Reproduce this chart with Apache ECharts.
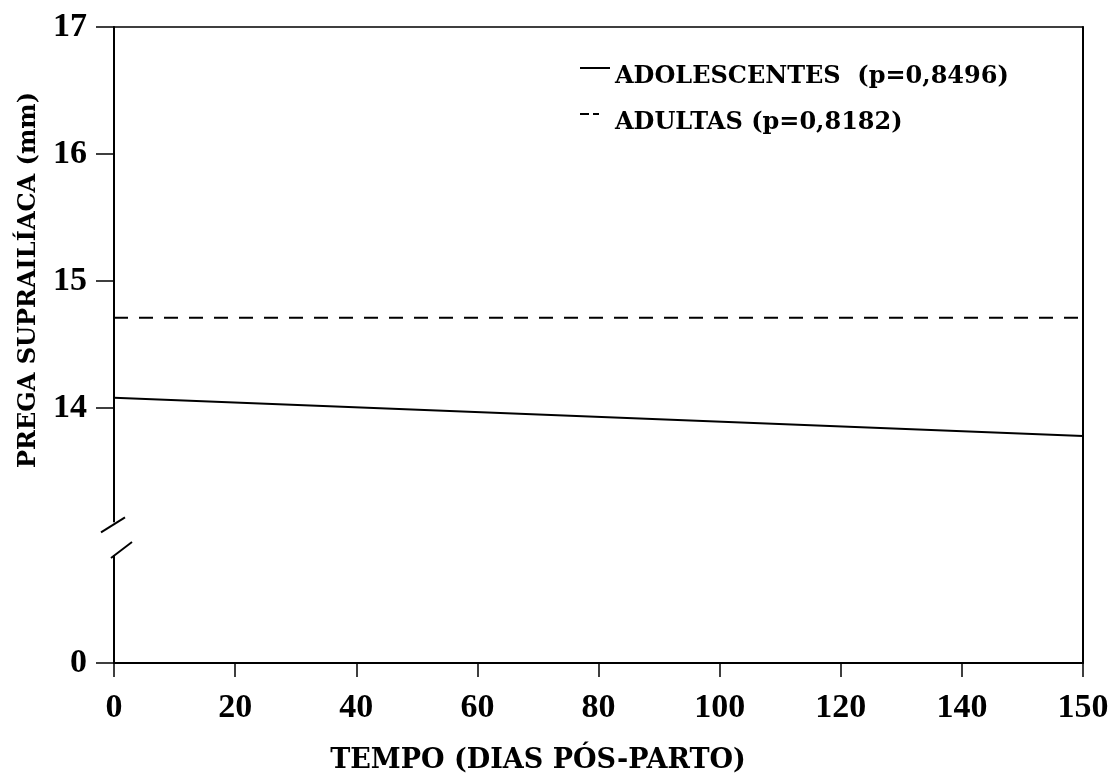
<!DOCTYPE html>
<html>
<head>
<meta charset="utf-8">
<script src="https://cdn.jsdelivr.net/npm/echarts@6/dist/echarts.min.js"></script>
<style>html,body{margin:0;padding:0;background:#fff}#c{width:1114px;height:782px}</style>
</head>
<body>
<div id="c"></div>
<script>
// ---- data ----
const xCategories = ['0', '20', '40', '60', '80', '100', '120', '140', '150'];
const yTickValues = [0, 14, 15, 16, 17];
const adolescentes = [['0', 14.08], ['150', 13.78]];
const adultas = [['0', 14.71], ['150', 14.71]];
const seriesNames = ['ADOLESCENTES  (p=0,8496)', 'ADULTAS (p=0,8182)'];
const xAxisTitle = 'TEMPO (DIAS PÓS-PARTO)';
const yAxisTitle = 'PREGA SUPRAILÍACA (mm)';
const yBreak = { start: 0.85, end: 13.1 };

const chart = echarts.init(document.getElementById('c'), null, { renderer: 'canvas' });
const tickFont = { fontFamily: 'Liberation Serif', fontWeight: 'bold', fontSize: 34, color: '#000' };

const option = {
  backgroundColor: '#fff',
  animation: false,
  grid: { left: 114, right: 31, top: 27, bottom: 119, containLabel: false },
  legend: {
    orient: 'vertical', left: 575, top: 60, itemWidth: 30, itemHeight: 20, itemGap: 22,
    data: [
      { name: seriesNames[0], icon: 'path://M0,0H30V2H0Z M29.99,19.99H30V20H29.99Z' },
      { name: seriesNames[1], icon: 'path://M0,0H9V2H0Z M13,0H19V2H13Z M29.99,19.99H30V20H29.99Z' }
    ],
    itemStyle: { color: '#000', borderWidth: 0 },
    textStyle: { fontFamily: 'DejaVu Serif', fontWeight: 'bold', fontSize: 24, color: '#000' }
  },
  xAxis: [{
    type: 'category', data: xCategories, boundaryGap: false, position: 'bottom',
    axisLine: { onZero: false, lineStyle: { color: '#000', width: 2 } },
    axisTick: { show: true, inside: false, length: 14, alignWithLabel: true, lineStyle: { color: '#000', width: 1.5 } },
    axisLabel: Object.assign({ margin: 28 }, tickFont),
    splitLine: { show: false }
  }, {
    type: 'category', data: xCategories, boundaryGap: false, position: 'top',
    axisLine: { onZero: false, lineStyle: { color: '#000', width: 1.5 } },
    axisTick: { show: false }, axisLabel: { show: false }, splitLine: { show: false }
  }],
  yAxis: [{
    type: 'value', min: 0, max: 17, interval: 1, position: 'left',
    breaks: [{ start: yBreak.start, end: yBreak.end, gap: '5.15%' }],
    breakArea: {
      show: true, expandOnClick: false, zigzagAmplitude: 0,
      itemStyle: { color: 'rgba(0,0,0,0)', borderColor: 'rgba(0,0,0,0)', borderWidth: 0, opacity: 0 }
    },
    axisLine: { show: true, onZero: false, lineStyle: { color: '#000', width: 2 } },
    axisTick: { show: true, inside: false, length: 18, customValues: yTickValues, lineStyle: { color: '#000', width: 1.5 } },
    axisLabel: Object.assign({ margin: 27, customValues: yTickValues }, tickFont),
    splitLine: { show: false }
  }, {
    type: 'value', min: 0, max: 17, position: 'right',
    axisLine: { show: true, onZero: false, lineStyle: { color: '#000', width: 2 } },
    axisTick: { show: false }, axisLabel: { show: false }, splitLine: { show: false }
  }],
  series: [{
    name: seriesNames[0], type: 'line', data: adolescentes, symbol: 'none',
    lineStyle: { color: '#000', width: 2, type: 'solid' }, itemStyle: { color: '#000' }
  }, {
    name: seriesNames[1], type: 'line', data: adultas, symbol: 'none',
    lineStyle: { color: '#000', width: 2, type: [14, 11] }, itemStyle: { color: '#000' }
  }],
  graphic: [{
    type: 'text', id: 'xname', x: 538, y: 761,
    style: { text: xAxisTitle, textAlign: 'center', textVerticalAlign: 'middle', font: 'bold 27px "DejaVu Serif"', fill: '#000' }
  }, {
    type: 'text', id: 'yname', x: 29, y: 280, rotation: Math.PI / 2,
    style: { text: yAxisTitle, textAlign: 'center', textVerticalAlign: 'middle', font: 'bold 24px "DejaVu Serif"', fill: '#000' }
  }]
};
chart.setOption(option);

// break marks on the y axis, placed from the axis scale
const ax = chart.convertToPixel({ xAxisIndex: 0 }, '0');
const yTop = chart.convertToPixel({ yAxisIndex: 0 }, yBreak.end);
const yBot = chart.convertToPixel({ yAxisIndex: 0 }, yBreak.start);
chart.setOption({
  graphic: [{
    type: 'rect', id: 'gapcover', z: 100,
    shape: { x: ax - 5, y: yTop, width: 10, height: yBot - yTop },
    style: { fill: '#fff' }
  }, {
    type: 'line', id: 'slash1', z: 101,
    shape: { x1: ax - 13, y1: yTop + 10, x2: ax + 11, y2: yTop - 5 },
    style: { stroke: '#000', lineWidth: 2 }
  }, {
    type: 'line', id: 'slash2', z: 101,
    shape: { x1: ax - 3, y1: yBot + 3, x2: ax + 18, y2: yBot - 13 },
    style: { stroke: '#000', lineWidth: 2 }
  }]
});
</script>
</body>
</html>
